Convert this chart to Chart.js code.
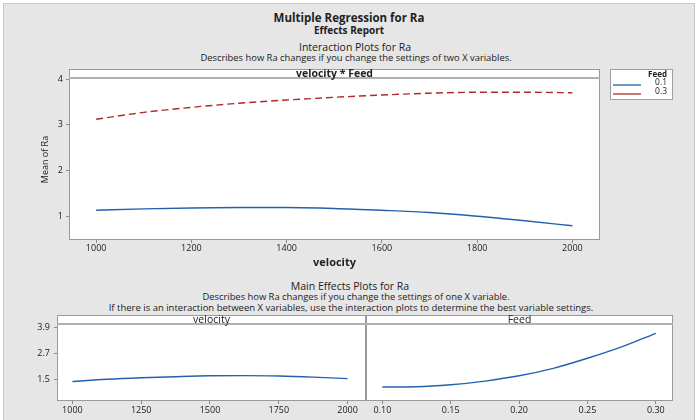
<!DOCTYPE html>
<html>
<head>
<meta charset="utf-8">
<script src="https://cdn.jsdelivr.net/npm/chart.js@4.4.1/dist/chart.umd.min.js"></script>
<style>
  html, body { margin: 0; padding: 0; background: #fff; }
  #wrap { position: relative; width: 699px; height: 420px; overflow: hidden; font-family: "Open Sans", sans-serif; color: #222; }
  #frame { position: absolute; left: 3px; top: 3px; width: 690px; height: 440px; background: #e6e6e6; border: 1px solid #c8c8c8; }
  canvas { position: absolute; left: 0; top: 0; }
  .t { position: absolute; width: 600px; text-align: center; white-space: nowrap; line-height: 12px; }
</style>
</head>
<body>
<div id="wrap">
  <div id="frame"></div>
  <div class="t" style="left:49px;top:12px;font-size:11.5px;font-weight:700;">Multiple Regression for Ra</div>
  <div class="t" style="left:49px;top:24px;font-size:10px;font-weight:700;">Effects Report</div>
  <div class="t" style="left:55px;top:41px;font-size:10.5px;">Interaction Plots for Ra</div>
  <div class="t" style="left:56px;top:52px;font-size:9.4px;">Describes how Ra changes if you change the settings of two X variables.</div>
  <div class="t" style="left:50px;top:280px;font-size:10.5px;">Main Effects Plots for Ra</div>
  <div class="t" style="left:56px;top:291px;font-size:9.4px;">Describes how Ra changes if you change the settings of one X variable.</div>
  <div class="t" style="left:51px;top:302px;font-size:9.5px;">If there is an interaction between X variables, use the interaction plots to determine the best variable settings.</div>
  <canvas id="interChart" width="699" height="420"></canvas>
  <canvas id="velChart" width="699" height="420"></canvas>
  <canvas id="feedChart" width="699" height="420"></canvas>
</div>
<script>
// interaction plot: velocity * Feed
const interVelocity = [1000, 1100, 1200, 1300, 1400, 1500, 1600, 1700, 1800, 1900, 2000];
const raFeedLow = [1.13, 1.16, 1.18, 1.19, 1.19, 1.17, 1.13, 1.08, 1.00, 0.90, 0.79];
const raFeedHigh = [3.12, 3.27, 3.38, 3.47, 3.54, 3.60, 3.65, 3.69, 3.71, 3.71, 3.70];
const feedLevels = ["0.1", "0.3"];
const interXTicks = [1000, 1200, 1400, 1600, 1800, 2000];
const interYTicks = [1, 2, 3, 4];

// main effects
const mainVelocity = [1000, 1125, 1250, 1375, 1500, 1625, 1750, 1875, 2000];
const mainVelocityRa = [1.42, 1.52, 1.59, 1.64, 1.68, 1.69, 1.67, 1.62, 1.55];
const mainVelocityTicks = [1000, 1250, 1500, 1750, 2000];
const mainFeed = [0.10, 0.125, 0.15, 0.175, 0.20, 0.225, 0.25, 0.275, 0.30];
const mainFeedRa = [1.17, 1.18, 1.27, 1.44, 1.68, 2.02, 2.48, 3.00, 3.62];
const mainFeedTicks = [0.10, 0.15, 0.20, 0.25, 0.30];
const mainYTicks = [1.5, 2.7, 3.9];

const BLUE = "#2461ad";
const RED = "#b02a2a";
const TICK = "#8a8a8a";
const tickFont = { size: 9 };

Chart.defaults.font.family = '"Open Sans", sans-serif';
Chart.defaults.color = "#1a1a1a";

const toPoints = (xs, ys) => xs.map((x, i) => ({ x, y: ys[i] }));

// white panel with header strip and grey frame
const panelPlugin = {
  id: "panel",
  beforeDraw(chart, args, opts) {
    const { ctx, chartArea: a } = chart;
    ctx.save();
    ctx.fillStyle = "#fff";
    ctx.fillRect(a.left, a.top - opts.strip, a.right - a.left, a.bottom - a.top + opts.strip);
    ctx.restore();
  },
  afterDraw(chart, args, opts) {
    const { ctx, chartArea: a } = chart;
    ctx.save();
    ctx.strokeStyle = "#9a9a9a";
    ctx.lineWidth = 1;
    ctx.strokeRect(a.left + 0.5, a.top - opts.strip + 0.5, a.right - a.left - 1, a.bottom - a.top + opts.strip - 1);
    ctx.strokeStyle = "#b0b0b0";
    ctx.lineWidth = 2;
    ctx.beginPath();
    ctx.moveTo(a.left, a.top - 1);
    ctx.lineTo(a.right, a.top - 1);
    ctx.stroke();
    ctx.fillStyle = "#222";
    ctx.font = opts.font;
    ctx.textAlign = "center";
    ctx.textBaseline = "middle";
    ctx.fillText(opts.text, (a.left + a.right) / 2, a.top - opts.strip / 2);
    ctx.restore();
  },
};

// boxed legend to the right of the interaction plot
const feedLegendPlugin = {
  id: "feedLegend",
  afterDraw(chart) {
    const { ctx, chartArea: a } = chart;
    const x = a.right + 10, y = a.top - 10, w = 63, h = 31;
    ctx.save();
    ctx.fillStyle = "#fff";
    ctx.fillRect(x, y, w, h);
    ctx.strokeStyle = "#a0a0a0";
    ctx.lineWidth = 1;
    ctx.strokeRect(x + 0.5, y + 0.5, w - 1, h - 1);
    ctx.fillStyle = "#222";
    ctx.textAlign = "right";
    ctx.textBaseline = "middle";
    ctx.font = 'bold 8px "Open Sans"';
    ctx.fillText("Feed", x + 57, y + 6);
    ctx.font = '8.5px "Open Sans"';
    chart.data.datasets.forEach((ds, i) => {
      const ly = y + 15 + i * 9;
      ctx.fillText(feedLevels[i], x + 57, ly - 1);
      ctx.strokeStyle = ds.borderColor;
      ctx.lineWidth = 1.3;
      ctx.beginPath();
      ctx.moveTo(x + 3, ly + 1);
      ctx.lineTo(x + 31, ly + 1);
      ctx.stroke();
    });
    ctx.restore();
  },
};

function tickGrid() {
  return { display: true, drawOnChartArea: false, drawTicks: true, tickLength: 3, color: TICK };
}

new Chart(document.getElementById("interChart"), {
  type: "line",
  data: {
    datasets: [
      {
        label: feedLevels[0],
        data: toPoints(interVelocity, raFeedLow),
        borderColor: BLUE,
        borderWidth: 1.4,
        pointRadius: 0,
        cubicInterpolationMode: "monotone",
      },
      {
        label: feedLevels[1],
        data: toPoints(interVelocity, raFeedHigh),
        borderColor: RED,
        borderWidth: 1.4,
        borderDash: [7, 4],
        pointRadius: 0,
        cubicInterpolationMode: "monotone",
      },
    ],
  },
  options: {
    responsive: false,
    animation: false,
    devicePixelRatio: 1,
    layout: { padding: { left: 36, right: 99, top: 79, bottom: 147 }, autoPadding: false },
    plugins: {
      legend: { display: false },
      tooltip: { enabled: false },
      panel: { strip: 10, text: "velocity * Feed", font: 'bold 10.5px "Open Sans"' },
    },
    scales: {
      x: {
        type: "linear",
        min: 943,
        max: 2058,
        afterBuildTicks: (s) => { s.ticks = interXTicks.map((v) => ({ value: v })); },
        afterFit: (s) => { s.height = 33; },
        grid: tickGrid(),
        border: { display: false },
        ticks: { font: tickFont, padding: 0, maxRotation: 0, autoSkip: false, callback: (v) => String(v) },
        title: { display: true, text: "velocity", font: { size: 11, weight: "bold" }, color: "#222" },
      },
      y: {
        type: "linear",
        min: 0.48,
        max: 4,
        afterBuildTicks: (s) => { s.ticks = interYTicks.map((v) => ({ value: v })); },
        afterFit: (s) => { s.width = 33; },
        grid: tickGrid(),
        border: { display: false },
        ticks: { font: tickFont, padding: 3, callback: (v) => String(v) },
        title: { display: true, text: "Mean of Ra", font: { size: 9 }, color: "#222" },
      },
    },
  },
  plugins: [panelPlugin, feedLegendPlugin],
});

new Chart(document.getElementById("velChart"), {
  type: "line",
  data: {
    datasets: [
      {
        data: toPoints(mainVelocity, mainVelocityRa),
        borderColor: BLUE,
        borderWidth: 1.4,
        pointRadius: 0,
        cubicInterpolationMode: "monotone",
      },
    ],
  },
  options: {
    responsive: false,
    animation: false,
    devicePixelRatio: 1,
    layout: { padding: { left: 0, right: 333, top: 325, bottom: 0 }, autoPadding: false },
    plugins: {
      legend: { display: false },
      tooltip: { enabled: false },
      panel: { strip: 10, text: "velocity", font: '10.5px "Open Sans"' },
    },
    scales: {
      x: {
        type: "linear",
        min: 944,
        max: 2067,
        afterBuildTicks: (s) => { s.ticks = mainVelocityTicks.map((v) => ({ value: v })); },
        afterFit: (s) => { s.height = 19; },
        grid: tickGrid(),
        border: { display: false },
        ticks: { font: tickFont, padding: 1, maxRotation: 0, autoSkip: false, callback: (v) => String(v) },
      },
      y: {
        type: "linear",
        min: 0.53,
        max: 4,
        afterBuildTicks: (s) => { s.ticks = mainYTicks.map((v) => ({ value: v })); },
        afterFit: (s) => { s.width = 57; },
        grid: tickGrid(),
        border: { display: false },
        ticks: { font: tickFont, padding: 4, callback: (v) => v.toFixed(1) },
      },
    },
  },
  plugins: [panelPlugin],
});

new Chart(document.getElementById("feedChart"), {
  type: "line",
  data: {
    datasets: [
      {
        data: toPoints(mainFeed, mainFeedRa),
        borderColor: BLUE,
        borderWidth: 1.4,
        pointRadius: 0,
        cubicInterpolationMode: "monotone",
      },
    ],
  },
  options: {
    responsive: false,
    animation: false,
    devicePixelRatio: 1,
    layout: { padding: { left: 366, right: 26, top: 325, bottom: 0 }, autoPadding: false },
    plugins: {
      legend: { display: false },
      tooltip: { enabled: false },
      panel: { strip: 10, text: "Feed", font: '10.5px "Open Sans"' },
    },
    scales: {
      x: {
        type: "linear",
        min: 0.088,
        max: 0.3126,
        afterBuildTicks: (s) => { s.ticks = mainFeedTicks.map((v) => ({ value: v })); },
        afterFit: (s) => { s.height = 19; },
        grid: tickGrid(),
        border: { display: false },
        ticks: { font: tickFont, padding: 1, maxRotation: 0, autoSkip: false, callback: (v) => v.toFixed(2) },
      },
      y: {
        type: "linear",
        display: false,
        min: 0.53,
        max: 4,
      },
    },
  },
  plugins: [panelPlugin],
});
</script>
</body>
</html>
